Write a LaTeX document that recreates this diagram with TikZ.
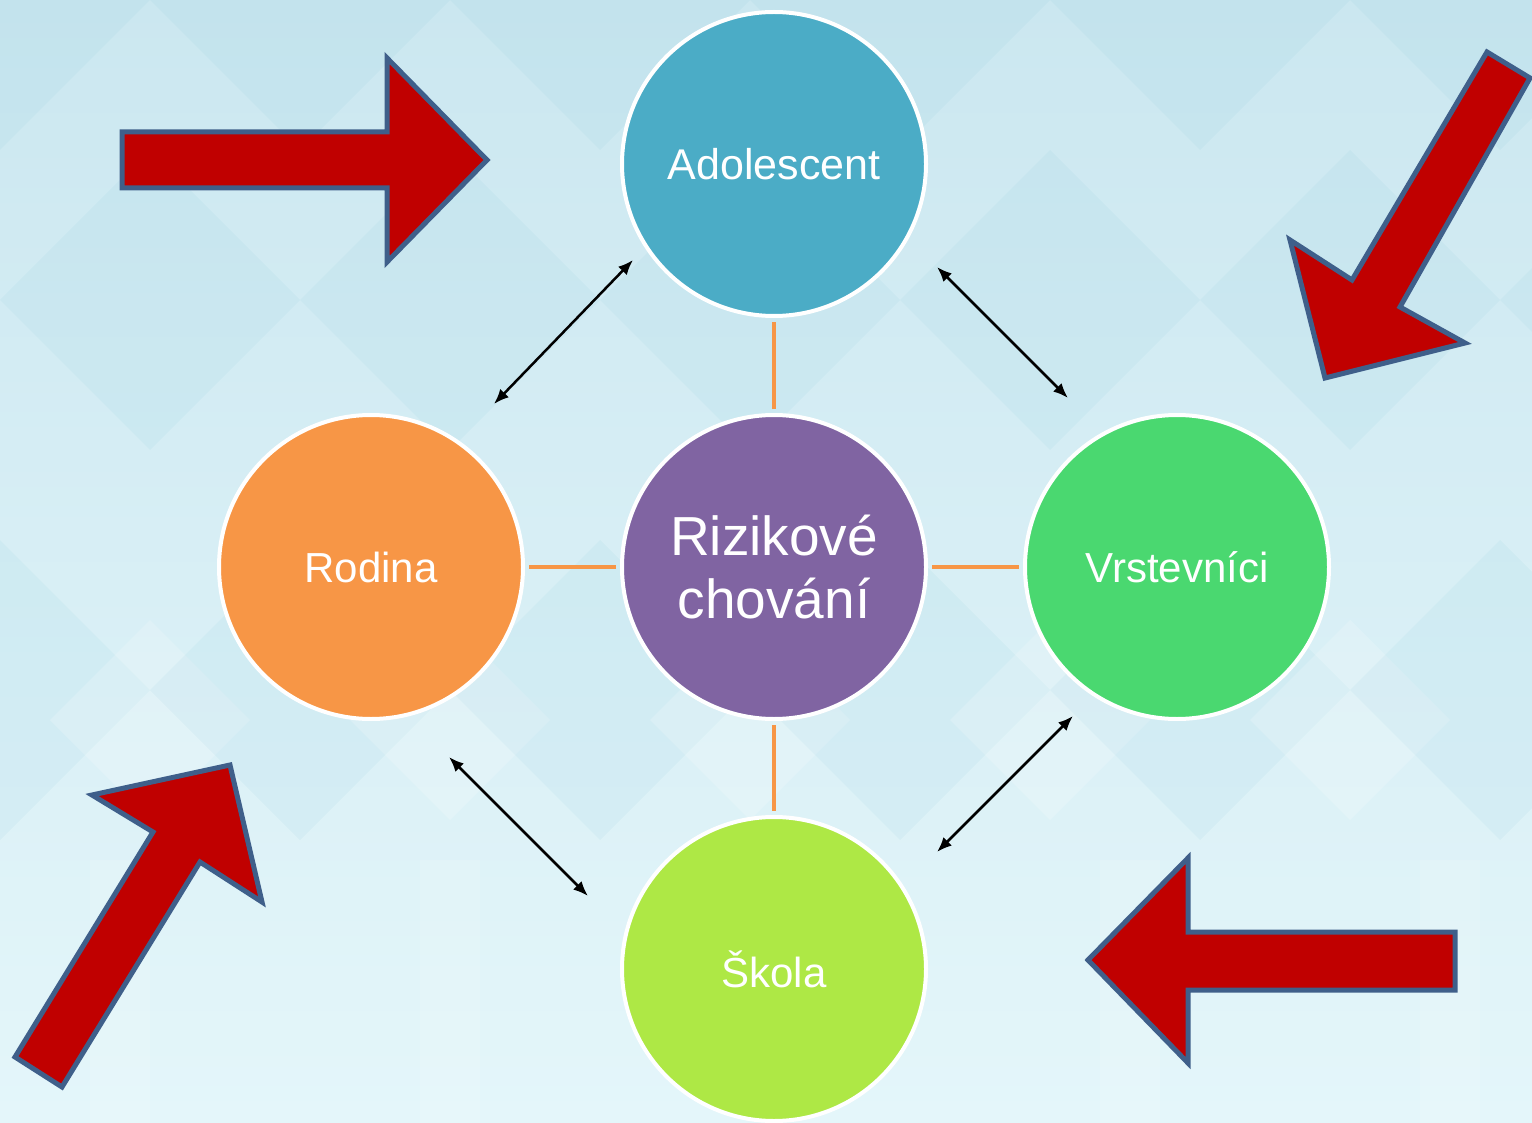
\documentclass[tikz,border=0pt]{standalone}
\usepackage{fontspec}
\setmainfont{Liberation Sans}
\usetikzlibrary{arrows.meta,calc}
\definecolor{bgtop}{HTML}{CBE7F0}
\definecolor{bgbot}{HTML}{E4F6FA}
\definecolor{cAdol}{HTML}{4BACC6}
\definecolor{cRod}{HTML}{F79646}
\definecolor{cRiz}{HTML}{8064A2}
\definecolor{cVrs}{HTML}{4AD870}
\definecolor{cSko}{HTML}{AEE845}
\definecolor{arrRed}{HTML}{C00000}
\definecolor{arrEdge}{HTML}{3F5F8A}
\tikzset{
  bubble/.style={circle, minimum size=304pt, inner sep=0pt, draw=white, line width=4pt, text=white, align=center},
  link/.style={draw=cRod, line width=4.5pt, shorten >=4pt, shorten <=4pt},
  dbl/.style={draw=black, line width=2.5pt, {Latex[length=15pt,width=12pt]}-{Latex[length=15pt,width=12pt]}},
  blockarrow/.style={fill=arrRed, draw=arrEdge, line width=5pt, line join=miter},
  lightdia/.style={fill=white, opacity=0.18},
  darkdia/.style={fill=cAdol, opacity=0.06}
}
\begin{document}
\begin{tikzpicture}[x=1pt,y=-1pt]
% background
\path[top color=bgtop, bottom color=bgbot] (0,0) rectangle (1532,1123);
\useasboundingbox (0,0) rectangle (1532,1123);
% faint diamond pattern
\foreach \cx in {0,300,600,900,1200,1500}{
  \path[darkdia] (\cx,-150) -- (\cx+150,0) -- (\cx,150) -- (\cx-150,0) -- cycle;
  \path[darkdia] (\cx+150,150) -- (\cx+300,300) -- (\cx+150,450) -- (\cx,300) -- cycle;
  \path[darkdia] (\cx,540) -- (\cx+150,690) -- (\cx,840) -- (\cx-150,690) -- cycle;
  \path[lightdia] (\cx+150,620) -- (\cx+250,720) -- (\cx+150,820) -- (\cx+50,720) -- cycle;
}
\foreach \sx in {90,420,760,1100,1420}{
  \path[fill=white, opacity=0.12] (\sx,860) rectangle (\sx+60,1123);
}
% circles
\node[bubble, fill=cAdol, font=\fontsize{43}{50}\selectfont] (adol) at (774,164) {Adolescent};
\node[bubble, fill=cRod, font=\fontsize{42}{49}\selectfont] (rod) at (371,567) {Rodina};
\node[bubble, fill=cRiz, font=\fontsize{55}{63}\selectfont] (riz) at (774,567) {Rizikové\\chování};
\node[bubble, fill=cVrs, font=\fontsize{42}{49}\selectfont] (vrs) at (1177,567) {Vrstevníci};
\node[bubble, fill=cSko, font=\fontsize{42}{49}\selectfont] (sko) at (774,969) {Škola};
% orange links
\draw[link] (riz) -- (adol);
\draw[link] (riz) -- (rod);
\draw[link] (riz) -- (vrs);
\draw[link] (riz) -- (sko);
% black double arrows
\coordinate (ar1a) at (633,260); \coordinate (ar1b) at (494,404);
\coordinate (ar2a) at (937,267); \coordinate (ar2b) at (1068,398);
\coordinate (ar3a) at (449,757); \coordinate (ar3b) at (588,896);
\coordinate (ar4a) at (1073,716); \coordinate (ar4b) at (937,852);
\draw[dbl] (ar1a) -- (ar1b);
\draw[dbl] (ar2a) -- (ar2b);
\draw[dbl] (ar3a) -- (ar3b);
\draw[dbl] (ar4a) -- (ar4b);
% red block arrows
\path[blockarrow] (122,132) -- (387,132) -- (387,58) -- (487,160) -- (387,262) -- (387,188) -- (122,188) -- cycle;
\path[blockarrow] (1455,932) -- (1188,932) -- (1188,858) -- (1088,960) -- (1188,1063) -- (1188,990) -- (1455,990) -- cycle;
\path[blockarrow] (1487,52) -- (1530,78) -- (1400,307) -- (1465,343) -- (1325,378) -- (1290,240) -- (1352,280) -- cycle;
\path[blockarrow] (15,1057) -- (62,1087) -- (200,862) -- (262,902) -- (230,765) -- (92,795) -- (153,832) -- cycle;
\end{tikzpicture}
\end{document}
